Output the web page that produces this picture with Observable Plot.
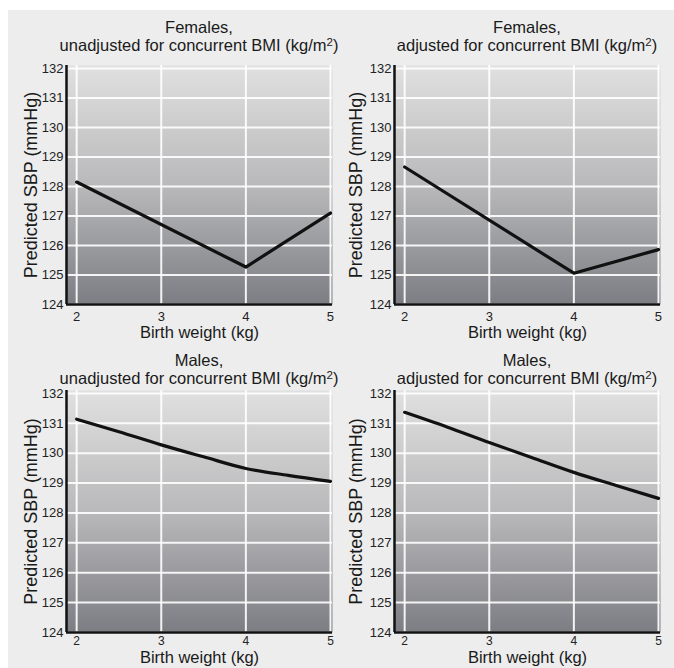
<!DOCTYPE html>
<html>
<head>
<meta charset="utf-8">
<script src="https://cdn.jsdelivr.net/npm/d3@7"></script>
<script src="https://cdn.jsdelivr.net/npm/@observablehq/plot@0.6"></script>
<style>
  html, body { margin: 0; padding: 0; background: #ffffff; }
  #wrap { position: relative; width: 674px; height: 668px; overflow: hidden; background: #fff; }
  #bg { position: absolute; left: 8px; top: 10px; right: 0; bottom: 0; background: #ededed; }
  .panel { position: absolute; }
  .title { position: absolute; text-align: center; font-family: "Liberation Sans", Arial, sans-serif; font-size: 16.5px; line-height: 18px; color: #1a1a1a; white-space: nowrap; }
  .title sup { font-size: 11.5px; vertical-align: 5px; line-height: 0; }
  svg text { font-family: "Liberation Sans", Arial, sans-serif; }
</style>
</head>
<body>
<div id="wrap"><div id="bg"></div></div>
<script>
// ---- data ----
const birthWeightTicks = [2, 3, 4, 5];
const sbpTicks = [124, 125, 126, 127, 128, 129, 130, 131, 132];

const femalesUnadjX = [2, 4, 5];
const femalesUnadjY = [128.15, 125.27, 127.1];

const femalesAdjX = [2, 4, 5];
const femalesAdjY = [128.66, 125.06, 125.86];

const malesUnadjX = [2, 2.5, 3, 3.5, 4, 4.5, 5];
const malesUnadjY = [131.14, 130.72, 130.28, 129.88, 129.49, 129.26, 129.06];

const malesAdjX = [2, 2.5, 3, 3.5, 4, 4.5, 5];
const malesAdjY = [131.37, 130.88, 130.36, 129.86, 129.36, 128.92, 128.49];

const titlesLine1 = ["Females,", "Females,", "Males,", "Males,"];
const titlesLine2 = ["unadjusted for concurrent BMI (kg/m", "adjusted for concurrent BMI (kg/m", "unadjusted for concurrent BMI (kg/m", "adjusted for concurrent BMI (kg/m"];
const yLabel = "Predicted SBP (mmHg)";
const xLabel = "Birth weight (kg)";

// ---- layout ----
const panels = [
  {xs: femalesUnadjX, ys: femalesUnadjY, curve: "linear",  left: 0,   top: 60,  ml: 66, mr: 5,  ph: 239, mb: 44, tp: 7, xfs: 13, lo: 33, ylo: 42, titleTop: 18},
  {xs: femalesAdjX,   ys: femalesAdjY,   curve: "linear",  left: 337, top: 60,  ml: 57, mr: 14, ph: 239, mb: 44, tp: 7, xfs: 13, lo: 33, ylo: 45, titleTop: 18},
  {xs: malesUnadjX,   ys: malesUnadjY,   curve: "monotone-x", left: 0,   top: 385, ml: 66, mr: 5,  ph: 242, mb: 36, tp: 4, xfs: 12, lo: 30, ylo: 42, titleTop: 351},
  {xs: malesAdjX,     ys: malesAdjY,     curve: "monotone-x", left: 337, top: 385, ml: 57, mr: 14, ph: 242, mb: 36, tp: 4, xfs: 12, lo: 30, ylo: 45, titleTop: 351}
];

const wrap = document.getElementById("wrap");
const xDomain = [1.88, 5.024];
const yDomain = [124, 132.1];

panels.forEach((p, i) => {
  const data = p.xs.map((x, k) => ({x, y: p.ys[k]}));
  const width = 337;
  const mt = 5;
  const gid = "grad" + i;
  const svg = Plot.plot({
    width,
    height: mt + p.ph + p.mb,
    marginLeft: p.ml,
    marginRight: p.mr,
    marginTop: mt,
    marginBottom: p.mb,
    style: {background: "transparent", fontSize: "13px", color: "#222"},
    x: {domain: xDomain, ticks: birthWeightTicks},
    y: {domain: yDomain, ticks: sbpTicks},
    marks: [
      Plot.frame({fill: `url(#${gid})`, stroke: null}),
      Plot.gridX(birthWeightTicks, {stroke: "#ffffff", strokeOpacity: 0.9, strokeWidth: 2}),
      Plot.gridY(sbpTicks, {stroke: "#ffffff", strokeOpacity: 0.9, strokeWidth: 2}),
      Plot.axisX(birthWeightTicks, {tickSize: 0, tickPadding: p.tp, fontSize: p.xfs, label: xLabel, labelAnchor: "center", labelOffset: p.lo, labelArrow: "none"}),
      Plot.axisY(sbpTicks, {tickSize: 0, tickPadding: 3, fontSize: 13, label: yLabel, labelAnchor: "center", labelOffset: p.ylo, labelArrow: "none"}),
      Plot.ruleX([xDomain[0]], {stroke: "#111", strokeWidth: 2.5}),
      Plot.ruleY([yDomain[0]], {stroke: "#111", strokeWidth: 2.5}),
      Plot.line(data, {x: "x", y: "y", stroke: "#111", strokeWidth: 3.2, curve: p.curve})
    ]
  });
  // gradient definition
  const s = d3.select(svg);
  const defs = s.insert("defs", ":first-child");
  const lg = defs.append("linearGradient").attr("id", gid).attr("x1", 0).attr("y1", 0).attr("x2", 0).attr("y2", 1);
  lg.append("stop").attr("offset", "0%").attr("stop-color", "#e0e0e0");
  lg.append("stop").attr("offset", "50%").attr("stop-color", "#b9b9bb");
  lg.append("stop").attr("offset", "100%").attr("stop-color", "#7c7d83");
  s.selectAll("g[aria-label='x-axis label'] text").style("font-size", "16.5px").style("fill", "#1a1a1a");
  s.selectAll("g[aria-label='y-axis label'] text").style("font-size", "18px").style("fill", "#1a1a1a");
  s.selectAll("g[aria-label='x-axis tick label'] text, g[aria-label='y-axis tick label'] text").style("fill", "#222");

  const div = document.createElement("div");
  div.className = "panel";
  div.style.left = p.left + "px";
  div.style.top = p.top + "px";
  div.appendChild(svg);
  wrap.appendChild(div);

  const t = document.createElement("div");
  t.className = "title";
  const plotLeft = p.left + p.ml;
  const plotRight = p.left + width - p.mr;
  const cx = (plotLeft + plotRight) / 2;
  t.style.left = (cx - 170) + "px";
  t.style.width = "340px";
  t.style.top = p.titleTop + "px";
  t.innerHTML = titlesLine1[i] + "<br>" + titlesLine2[i] + "<sup>2</sup>)";
  wrap.appendChild(t);
});
</script>
</body>
</html>
